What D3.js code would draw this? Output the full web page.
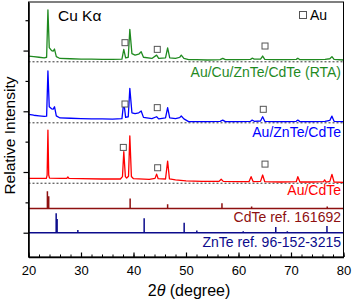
<!DOCTYPE html>
<html lang="en">
<head>
  <meta charset="UTF-8">
  <title>XRD patterns</title>
  <script src="https://d3js.org/d3.v7.min.js"></script>
  <style>
    body { margin: 0; background: #fff; font-family: Arial, "Liberation Sans", sans-serif; }
    svg text { font-family: Arial, "Liberation Sans", sans-serif; }
  </style>
</head>
<body>
  <div id="chart"></div>
  <script>
    // Measured traces, [2theta, intensity] in stacked (offset) units
    const rtaTrace = [
      [20, 5.82], [21, 5.80], [22, 5.78], [23, 5.76], [23.45, 5.78], [23.7, 7.34], [23.95, 6.1],
      [24.4, 6.0], [24.7, 5.98], [24.95, 6.05], [25.3, 5.80], [26, 5.74], [28, 5.73], [30, 5.72],
      [32, 5.72], [34, 5.71], [36, 5.71], [37.8, 5.72], [38.15, 6.04], [38.5, 5.76], [39.0, 5.78],
      [39.3, 6.70], [39.7, 5.9], [40.3, 5.85], [41.0, 5.88], [41.46, 5.96], [41.9, 5.78], [43.5, 5.74],
      [44.4, 5.85], [44.8, 5.74], [46.1, 5.76], [46.5, 6.09], [46.9, 5.76], [48, 5.74], [48.8, 5.78],
      [49.1, 5.85], [49.6, 5.74], [50.5, 5.70], [52, 5.70], [54, 5.69], [56.5, 5.70], [57.0, 5.745],
      [57.5, 5.70], [60, 5.70], [62.3, 5.71], [62.6, 5.75], [63, 5.72], [64.2, 5.72], [64.6, 5.82],
      [65.0, 5.71], [67, 5.70], [69, 5.70], [71.0, 5.71], [71.3, 5.75], [71.7, 5.70], [74, 5.70],
      [76.5, 5.71], [77.4, 5.73], [77.8, 5.80], [78.2, 5.71], [80, 5.69]
    ];
    const auZnteTrace = [
      [20, 3.90], [21, 3.87], [22, 3.85], [23, 3.83], [23.45, 3.84], [23.7, 5.33], [23.95, 4.15],
      [24.4, 4.08], [24.7, 4.07], [24.95, 4.15], [25.3, 3.85], [26, 3.78], [28, 3.77], [30, 3.76],
      [32, 3.75], [34, 3.75], [36, 3.745], [37.8, 3.76], [38.15, 4.315], [38.5, 3.80], [39.0, 3.82],
      [39.3, 4.757], [39.7, 3.95], [40.3, 3.92], [41.0, 3.95], [41.46, 4.01], [41.9, 3.80], [43.5, 3.76],
      [44.4, 3.82], [44.8, 3.75], [46.1, 3.78], [46.5, 4.118], [46.9, 3.78], [48, 3.76], [48.8, 3.79],
      [49.1, 3.844], [49.6, 3.75], [50.5, 3.66], [52, 3.66], [54, 3.66], [56.5, 3.67], [57.0, 3.71],
      [57.5, 3.66], [60, 3.66], [62.3, 3.67], [62.6, 3.71], [63, 3.67], [64.2, 3.68], [64.6, 3.82],
      [65.0, 3.67], [67, 3.66], [69, 3.66], [71.0, 3.67], [71.3, 3.71], [71.7, 3.66], [74, 3.66],
      [76.5, 3.67], [77.4, 3.70], [77.8, 3.84], [78.2, 3.67], [80, 3.66]
    ];
    const auCdteTrace = [
      [20, 1.79], [22, 1.79], [23.4, 1.79], [23.55, 1.9], [23.7, 3.38], [23.85, 1.9], [24.0, 1.80],
      [26, 1.79], [27.3, 1.79], [27.5, 1.835], [27.7, 1.79], [30, 1.78], [34, 1.77], [37.5, 1.77],
      [37.9, 1.85], [38.15, 2.67], [38.45, 1.85], [38.7, 1.80], [39.05, 1.86], [39.3, 3.19], [39.6, 1.85],
      [40, 1.78], [43, 1.76], [44.1, 1.79], [44.4, 1.93], [44.7, 1.78], [46.1, 1.77], [46.5, 2.36],
      [46.85, 1.77], [48, 1.74], [50, 1.71], [53, 1.69], [56.3, 1.69], [56.7, 1.76], [57.1, 1.69],
      [60, 1.68], [62.0, 1.68], [62.4, 1.845], [62.8, 1.68], [64.2, 1.69], [64.6, 1.90], [65, 1.68],
      [68, 1.67], [71.0, 1.68], [71.3, 1.845], [71.7, 1.67], [74, 1.67], [76.2, 1.68], [76.4, 1.74],
      [76.7, 1.67], [77.4, 1.69], [77.8, 1.92], [78.2, 1.67], [80, 1.66]
    ];

    // Reference stick patterns
    const cdteBase = 0.80;
    const cdteSticks = [[23.6, 1.37], [23.85, 1.2], [39.36, 1.13], [46.5, 0.94], [56.85, 0.97], [62.5, 0.86], [76.9, 0.86]];
    const znteBase = 0.0;
    const znteSticks = [[25.27, 0.64], [25.45, 0.45], [29.4, 0.09], [42.03, 0.475], [49.65, 0.33], [52.06, 0.07],
                        [60.9, 0.05], [67.1, 0.19], [69.3, 0.05], [76.85, 0.22]];

    // Dashed baselines of the measured traces
    const dashedLevels = [5.63, 3.62, 1.63];

    // Au reflection markers [2theta, level]
    const auMarks = [
      [38.38, 6.26], [44.53, 6.04], [65.05, 6.15],
      [38.38, 4.24], [44.53, 4.12], [64.72, 4.065],
      [38.06, 2.81], [44.6, 2.14], [65.05, 2.26]
    ];

    const labels = ["Au/Cu/ZnTe/CdTe (RTA)", "Au/ZnTe/CdTe", "Au/CdTe", "CdTe ref. 161692", "ZnTe ref. 96-152-3215"];
    const labelLevels = [5.13, 3.16, 1.24, 0.36, -0.48];
    const colors = ["#1f8a1f", "#0000ff", "#ff0000", "#8e1010", "#0c0c8c"];

    const xTicks = [20, 30, 40, 50, 60, 70, 80];
    const yTicks = [0, 1, 2, 3, 4, 5, 6, 7];

    const W = 353, H = 302;
    const x = d3.scaleLinear().domain([20, 80]).range([28.5, 343.5]);
    const y = d3.scaleLinear().domain([-0.8, 7.6]).range([257, 2]);

    const svg = d3.select("#chart").append("svg")
      .attr("width", W).attr("height", H);

    const line = d3.line().x(d => x(d[0])).y(d => y(d[1]));

    // dashed baselines
    svg.selectAll(".dash")
      .data(dashedLevels)
      .enter().append("line")
      .attr("x1", x(20)).attr("x2", x(80))
      .attr("y1", d => y(d)).attr("y2", d => y(d))
      .attr("stroke", "#333").attr("stroke-width", 1)
      .attr("stroke-dasharray", "2,2");

    // measured spectra
    [rtaTrace, auZnteTrace, auCdteTrace].forEach((tr, i) => {
      svg.append("path").datum(tr)
        .attr("d", line)
        .attr("fill", "none")
        .attr("stroke", colors[i])
        .attr("stroke-width", 1.3)
        .attr("stroke-linejoin", "round");
    });

    // reference sticks
    function sticks(base, list) {
      const pts = [[20, base]];
      list.forEach(s => { pts.push([s[0], base], [s[0], s[1]], [s[0], base]); });
      pts.push([80, base]);
      return pts;
    }
    svg.append("path").datum(sticks(cdteBase, cdteSticks))
      .attr("d", line).attr("fill", "none")
      .attr("stroke", colors[3]).attr("stroke-width", 1.5);
    svg.append("path").datum(sticks(znteBase, znteSticks))
      .attr("d", line).attr("fill", "none")
      .attr("stroke", colors[4]).attr("stroke-width", 1.5);

    // Au markers
    svg.selectAll(".au")
      .data(auMarks)
      .enter().append("rect")
      .attr("x", d => x(d[0]) - 3).attr("y", d => y(d[1]) - 3)
      .attr("width", 6).attr("height", 6)
      .attr("fill", "#fff").attr("stroke", "#555").attr("stroke-width", 1);

    // sample labels
    svg.selectAll(".lbl")
      .data(labels)
      .enter().append("text")
      .attr("x", 341)
      .attr("y", (d, i) => y(labelLevels[i]))
      .attr("text-anchor", "end")
      .attr("fill", (d, i) => colors[i])
      .style("font-size", "14px")
      .text(d => d);

    // frame
    svg.append("rect")
      .attr("x", x(20)).attr("y", y(7.6))
      .attr("width", x(80) - x(20)).attr("height", y(-0.8) - y(7.6))
      .attr("fill", "none").attr("stroke", "#000").attr("stroke-width", 1);

    // bottom axis: inward ticks, minor every 2 degrees
    svg.append("g")
      .attr("transform", `translate(0,${y(-0.8)})`)
      .call(d3.axisBottom(x).tickValues(d3.range(20, 81, 2)).tickSize(-2.5).tickFormat(""))
      .call(g => g.select(".domain").remove());
    const xAxis = svg.append("g")
      .attr("transform", `translate(0,${y(-0.8)})`)
      .call(d3.axisBottom(x).tickValues(xTicks).tickSizeInner(-4.5).tickSizeOuter(0).tickPadding(9));
    xAxis.select(".domain").attr("stroke-width", 1.6);
    xAxis.selectAll(".tick line").attr("stroke-width", 1.2);
    xAxis.selectAll(".tick text").style("font-size", "13px").attr("fill", "#000");

    // left axis: outward ticks, no labels
    const yAxis = svg.append("g")
      .attr("transform", `translate(${x(20)},0)`)
      .call(d3.axisLeft(y).tickValues(yTicks).tickSizeOuter(0).tickFormat(""));
    yAxis.select(".domain").attr("stroke-width", 1.6);
    yAxis.selectAll(".tick line")
      .attr("x2", d => d % 2 === 0 ? -5 : -3)
      .attr("stroke-width", 1.2);

    // axis titles
    svg.append("text")
      .attr("transform", `translate(15,${y(3.2)}) rotate(-90)`)
      .attr("text-anchor", "middle")
      .style("font-size", "15.5px")
      .text("Relative Intensity");

    const xt = svg.append("text")
      .attr("x", 189).attr("y", 296)
      .attr("text-anchor", "middle")
      .style("font-size", "16px");
    xt.append("tspan").text("2");
    xt.append("tspan").style("font-style", "italic").text("\u03b8");
    xt.append("tspan").text(" (degree)");

    // annotations
    svg.append("text")
      .attr("x", 58).attr("y", 20.5)
      .style("font-size", "15.5px")
      .text("Cu K\u03b1");
    svg.append("rect")
      .attr("x", 299.5).attr("y", 11.5).attr("width", 7).attr("height", 7)
      .attr("fill", "#fff").attr("stroke", "#555").attr("stroke-width", 1);
    svg.append("text")
      .attr("x", 310).attr("y", 19.5)
      .style("font-size", "14px")
      .text("Au");
  </script>
</body>
</html>
